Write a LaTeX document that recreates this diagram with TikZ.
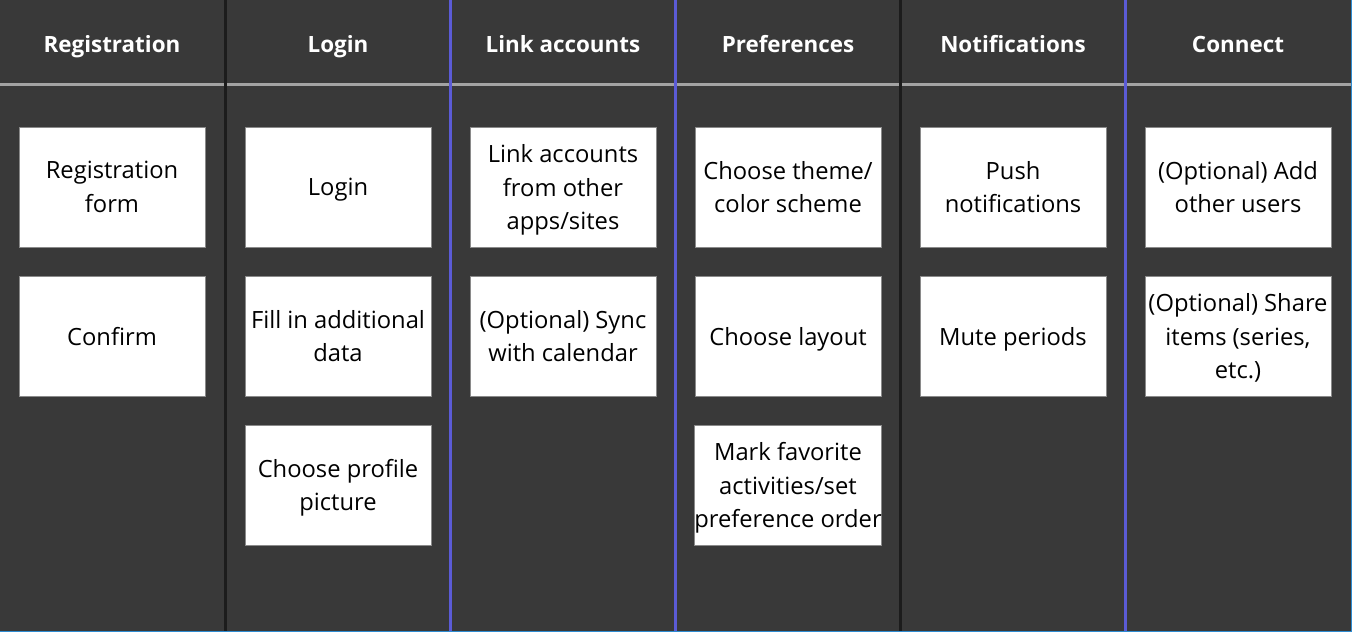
\documentclass[tikz,border=0pt]{standalone}
\usepackage{fontspec}
\setmainfont{Open Sans}
\definecolor{boardbg}{HTML}{393939}
\definecolor{rulegray}{HTML}{A3A3A3}
\definecolor{sepdark}{HTML}{1C1C1C}
\definecolor{sepblue}{HTML}{5B5BD6}
\definecolor{edgeblue}{HTML}{2E8BD0}
\definecolor{cardedge}{HTML}{8A8A8A}
\tikzset{
  head/.style={text=white, font=\fontsize{16.8}{21}\selectfont\bfseries, anchor=base},
  card/.style={draw=cardedge, line width=0.75pt, fill=white, minimum width=139.5pt, minimum height=90pt,
    inner sep=0pt, align=center, text depth=-3pt, font=\fontsize{17.8}{25.2}\selectfont, text=black},
  darksep/.style={draw=sepdark, line width=2.2pt},
  bluesep/.style={draw=sepblue, line width=1.6pt},
}
\begin{document}
\begin{tikzpicture}[x=0.75pt, y=-0.75pt]
  \useasboundingbox (0,0) rectangle (1352,632);
  \fill[boardbg] (0,0) rectangle (1352,632);
  % header rule
  \fill[rulegray] (0,83) rectangle (1352,86);
  % column separators
  \draw[darksep] (225.5,0) -- (225.5,632);
  \draw[bluesep] (450.5,0) -- (450.5,632);
  \draw[bluesep] (675.5,0) -- (675.5,632);
  \draw[darksep] (900.5,0) -- (900.5,632);
  \draw[bluesep] (1125.5,0) -- (1125.5,632);
  % outer edge
  \draw[edgeblue, line width=1pt] (0,631.5) -- (1351.5,631.5) -- (1351.5,0);
  % column headings
  \node[head] (h1) at (112,52) {Registration};
  \node[head] (h2) at (338,52) {Login};
  \node[head] (h3) at (563,52) {Link accounts};
  \node[head] (h4) at (788,52) {Preferences};
  \node[head] (h5) at (1013,52) {Notifications};
  \node[head] (h6) at (1238,52) {Connect};
  % cards
  \node[card] (r1) at (112,187) {Registration\\form};
  \node[card] (r2) at (112,336) {Confirm};
  \node[card] (l1) at (338,187) {Login};
  \node[card] (l2) at (338,336) {Fill in additional\\data};
  \node[card] (l3) at (338,485) {Choose profile\\picture};
  \node[card] (a1) at (563,187) {Link accounts\\from other\\apps/sites};
  \node[card] (a2) at (563,336) {(Optional) Sync\\with calendar};
  \node[card] (p1) at (788,187) {Choose theme/\\color scheme};
  \node[card] (p2) at (788,336) {Choose layout};
  \node[card] (p3) at (788,485) {Mark favorite\\activities/set\\preference order};
  \node[card] (n1) at (1013,187) {Push\\notifications};
  \node[card] (n2) at (1013,336) {Mute periods};
  \node[card] (c1) at (1238,187) {(Optional) Add\\other users};
  \node[card] (c2) at (1238,336) {(Optional) Share\\items (series,\\etc.)};
\end{tikzpicture}
\end{document}
